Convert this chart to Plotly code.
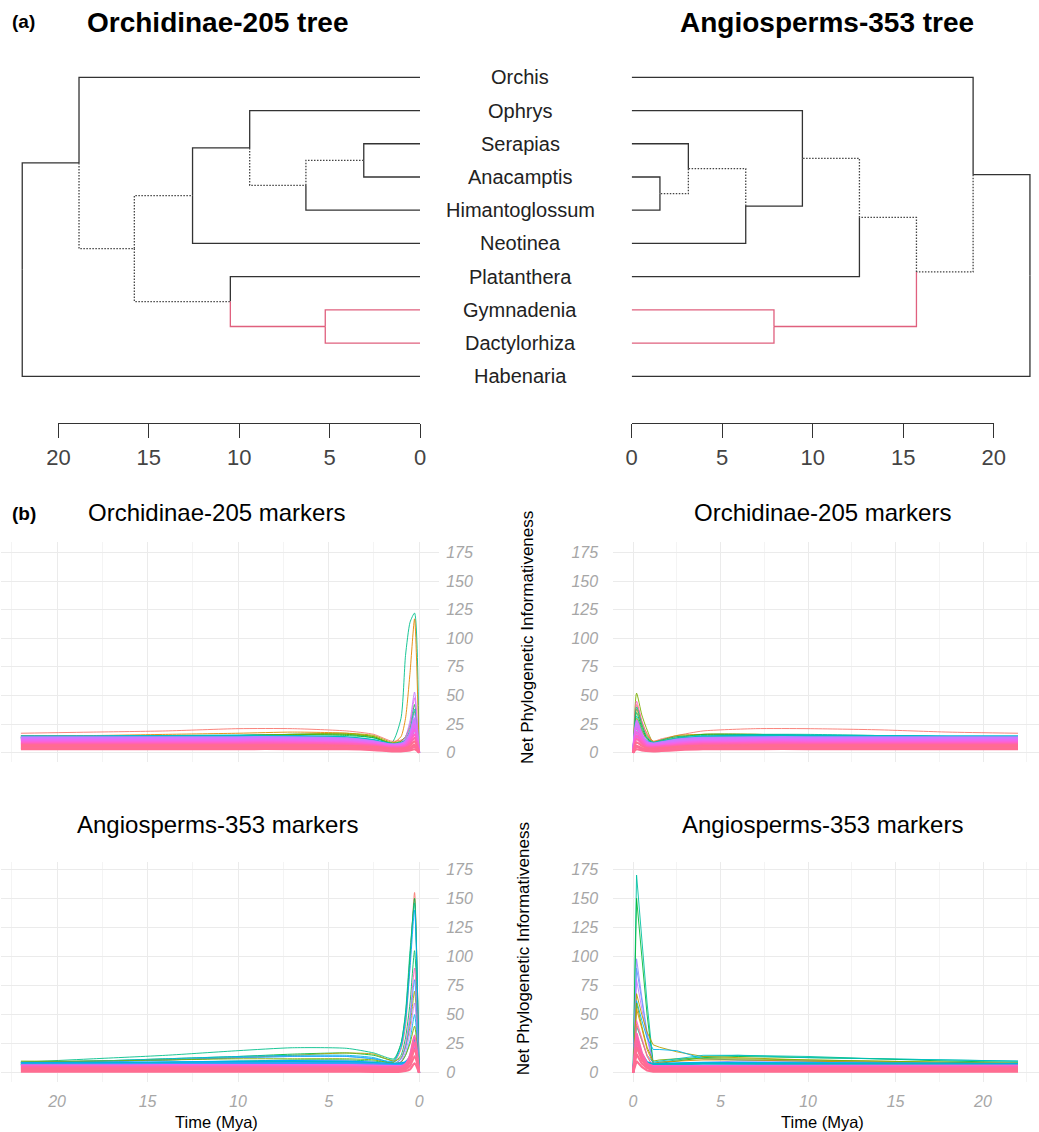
import plotly.graph_objects as go

W, H = 1039, 1132
FONT = "Liberation Sans, Arial, Helvetica, sans-serif"

# ---------------- (a) tree data ----------------
TIP_LABELS = ["Orchis", "Ophrys", "Serapias", "Anacamptis", "Himantoglossum",
              "Neotinea", "Platanthera", "Gymnadenia", "Dactylorhiza", "Habenaria"]

ORCH_NODE_AGES = {"root": 22.0, "A": 18.86, "B": 15.8, "C": 12.58, "D": 9.42,
                  "E": 6.31, "F": 3.11, "G": 10.49, "H": 5.24}
ORCH_CHILDREN = {"root": ["A", "Habenaria"], "A": ["Orchis", "B"], "B": ["C", "G"],
                 "C": ["D", "Neotinea"], "D": ["Ophrys", "E"], "E": ["F", "Himantoglossum"],
                 "F": ["Serapias", "Anacamptis"], "G": ["Platanthera", "H"],
                 "H": ["Gymnadenia", "Dactylorhiza"]}
ORCH_DOTTED = ["B", "C", "G", "E", "F"]
ORCH_PINK = ["H", "Gymnadenia", "Dactylorhiza"]

ANGIO_NODE_AGES = {"root": 22.0, "X": 18.86, "V": 15.73, "U": 12.58, "T": 9.43,
                   "S": 6.30, "R": 3.13, "Q": 1.56, "W": 7.86}
ANGIO_CHILDREN = {"root": ["X", "Habenaria"], "X": ["Orchis", "V"], "V": ["U", "W"],
                  "U": ["T", "Platanthera"], "T": ["Ophrys", "S"], "S": ["R", "Neotinea"],
                  "R": ["Serapias", "Q"], "Q": ["Anacamptis", "Himantoglossum"],
                  "W": ["Gymnadenia", "Dactylorhiza"]}
ANGIO_DOTTED = ["V", "U", "T", "R", "Q"]
ANGIO_PINK = ["W", "Gymnadenia", "Dactylorhiza"]

TREE_TICKS = [0, 5, 10, 15, 20]

# ---------------- (b) informativeness profiles ----------------
# Top-left: Orchidinae-205 markers on Orchidinae-205 tree
T_TL = [0, 0.25, 0.5, 0.75, 1.0, 1.5, 2.5, 4, 7, 10, 14, 18, 22]
TL_LINES = [
    ("#00C08B", [0, 122, 114, 85, 30, 9, 13, 16, 16, 15, 14, 13, 13]),
    ("#E58700", [0, 117, 70, 30, 14, 8, 14, 17, 18, 17, 16, 15, 15]),
    ("#F8766D", [0, 25, 18, 13, 11, 10, 16, 19, 21, 21, 19, 18, 17]),
    ("#00BA38", [0, 42, 24, 14, 10, 8, 13, 15, 16, 15, 14, 14, 13]),
    ("#A3A500", [0, 36, 22, 14, 10, 9, 15, 17, 16, 15, 14, 14, 13]),
    ("#5BB300", [0, 28, 16, 11, 9, 8, 14, 16, 16, 15, 15, 14, 14]),
    ("#00BFC4", [0, 38, 20, 12, 8, 6, 11, 13, 14, 14, 14, 13, 13]),
    ("#00B0F6", [0, 30, 17, 10, 7, 5, 10, 12, 13, 14, 13, 13, 12]),
    ("#9590FF", [0, 34, 18, 10, 7, 5, 9, 11, 12, 13, 12, 12, 12]),
    ("#C77CFF", [0, 53, 28, 14, 9, 7, 10, 12, 12, 12, 12, 12, 12]),
    ("#E76BF3", [0, 48, 24, 12, 8, 6, 9, 11, 11, 11, 11, 11, 11]),
]
TL_BAND = [
    ("#00B0F6", [0, 20, 12, 9, 8, 7, 10, 13, 14, 14.5, 14.5, 14, 14]),
    ("#00BFC4", [0, 24, 14, 10, 8.5, 7.5, 11, 13.5, 14.5, 15, 14.5, 14, 14]),
    ("#B385FF", [0, 22, 13, 9, 8, 7, 10, 12.5, 13.5, 13.5, 13.5, 13.5, 13.5]),
    ("#C77CFF", [0, 30, 16, 10, 7.5, 7, 9.5, 12, 12.8, 12.8, 12.8, 12.7, 12.7]),
    ("#D575FE", [0, 27, 15, 9, 7, 6.5, 9, 11, 11.8, 11.8, 11.8, 11.7, 11.7]),
    ("#E76BF3", [0, 24, 14, 8, 6.5, 6, 8.5, 10, 10.8, 10.8, 10.8, 10.7, 10.7]),
    ("#F564E3", [0, 20, 12, 7, 6, 5.5, 7.5, 9, 9.8, 9.8, 9.8, 9.7, 9.7]),
    ("#FF61C9", [0, 16, 10, 6, 5, 5, 6.8, 8, 8.7, 8.7, 8.7, 8.6, 8.6]),
    ("#FF64B0", [0, 13, 8, 5, 4.5, 4.3, 6, 7, 7.6, 7.6, 7.6, 7.5, 7.5]),
    ("#FF6C91", [0, 10, 6, 4, 3.5, 3.5, 5, 6, 6.5, 6.5, 6.5, 6.4, 6.4]),
    ("#FF6C91", [0, 7, 4, 3, 2.5, 2.5, 4, 5, 5.4, 5.4, 5.4, 5.3, 5.3]),
    ("#FF6A98", [0, 5, 3, 2, 1.8, 1.8, 3, 4, 4.3, 4.3, 4.3, 4.2, 4.2]),
    ("#FF6C91", [0, 3, 2, 1.5, 1.2, 1.2, 2.2, 3, 3.2, 3.2, 3.2, 3.2, 3.2]),
]

# Top-right: Orchidinae-205 markers on Angiosperms-353 tree
T_TR = [0, 0.2, 0.5, 0.75, 1.15, 1.6, 2.5, 4, 7, 10, 14, 18, 22]
TR_LINES = [
    ("#7CAE00", [0, 52, 33, 22, 9, 10, 12, 14, 15, 15, 15, 14, 14]),
    ("#FF61C3", [0, 45, 28, 18, 8, 8, 10, 11, 12, 12, 12, 12, 12]),
    ("#F8766D", [0, 42, 27, 18, 10, 12, 15, 19, 21, 21, 20, 18, 17]),
    ("#E58700", [0, 38, 24, 16, 10, 11, 14, 16, 16, 15, 14, 14, 14]),
    ("#00BFC4", [0, 32, 20, 13, 7, 8, 12, 14, 15, 15, 14, 13, 13]),
    ("#619CFF", [0, 28, 18, 12, 7, 8, 11, 13, 14, 14, 13, 13, 12]),
    ("#B79F00", [0, 30, 19, 13, 9, 11, 15, 16, 16, 15, 14, 14, 13]),
    ("#C77CFF", [0, 14, 10, 8, 6, 7, 10, 12, 12, 12, 12, 12, 12]),
    ("#00BA38", [0, 35, 22, 14, 8, 10, 13, 16, 16, 15, 15, 14, 14]),
    ("#00C08B", [0, 40, 25, 15, 9, 11, 14, 15, 16, 16, 15, 14, 14]),
]
TR_BAND = [
    ("#00B0F6", [0, 18, 12, 9, 8, 9, 11.5, 13.5, 14.5, 14.5, 14.5, 14, 14]),
    ("#00BFC4", [0, 22, 14, 10, 8.5, 9.5, 12, 14, 15, 15, 14.5, 14, 14]),
    ("#B385FF", [0, 14, 11, 9, 8, 9, 11.5, 13, 13.5, 13.5, 13.5, 13.5, 13.5]),
    ("#C77CFF", [0, 28, 16, 10, 7.5, 8.5, 10.8, 12.2, 12.8, 12.8, 12.8, 12.7, 12.7]),
    ("#D575FE", [0, 25, 15, 9, 7, 8, 9.8, 11.2, 11.8, 11.8, 11.8, 11.7, 11.7]),
    ("#E76BF3", [0, 22, 14, 8, 6.5, 7.2, 8.8, 10.2, 10.8, 10.8, 10.8, 10.7, 10.7]),
    ("#F564E3", [0, 18, 12, 7, 6, 6.5, 7.8, 9.2, 9.8, 9.8, 9.8, 9.7, 9.7]),
    ("#FF61C9", [0, 15, 10, 6, 5, 5.6, 6.9, 8.2, 8.7, 8.7, 8.7, 8.6, 8.6]),
    ("#FF64B0", [0, 12, 8, 5, 4.5, 5, 6, 7.2, 7.6, 7.6, 7.6, 7.5, 7.5]),
    ("#FF6C91", [0, 9, 6, 4, 3.5, 4, 5, 6.2, 6.5, 6.5, 6.5, 6.4, 6.4]),
    ("#FF6C91", [0, 6, 4, 3, 2.5, 3, 4, 5.1, 5.4, 5.4, 5.4, 5.3, 5.3]),
    ("#FF6A98", [0, 5, 3, 2, 1.8, 2.2, 3, 4, 4.3, 4.3, 4.3, 4.2, 4.2]),
    ("#FF6C91", [0, 3, 2, 1.5, 1.2, 1.5, 2.2, 3, 3.2, 3.2, 3.2, 3.2, 3.2]),
]

# Bottom-left: Angiosperms-353 markers on Orchidinae-205 tree
T_BL = [0, 0.25, 0.5, 0.75, 1.0, 1.4, 2.5, 4, 7, 10, 14, 18, 22]
BL_LINES = [
    ("#F8766D", [0, 155, 95, 40, 20, 9, 8, 8, 7, 6, 6, 5, 5]),
    ("#00BA38", [0, 150, 100, 50, 25, 11, 15, 17, 16, 14, 12, 10, 9]),
    ("#00C08B", [0, 146, 105, 52, 25, 12, 17, 21, 21.5, 19, 15, 12, 9]),
    ("#00A9FF", [0, 140, 90, 45, 22, 10, 12, 14, 14, 13, 11, 10, 9]),
    ("#00BE67", [0, 105, 60, 30, 15, 9, 10, 11, 11, 10, 9, 8, 7]),
    ("#FF61C3", [0, 90, 50, 25, 12, 7, 7, 7, 7, 6, 6, 6, 6]),
    ("#B79F00", [0, 70, 40, 22, 13, 10, 16, 17, 15, 13, 11, 10, 9]),
    ("#35A2FF", [0, 80, 45, 22, 12, 8, 12, 14, 14, 13, 11, 9, 8]),
    ("#C77CFF", [0, 60, 35, 18, 10, 7, 9, 10, 10, 9, 8, 7, 7]),
    ("#00B8E7", [0, 50, 28, 15, 9, 8, 13, 15, 15, 14, 12, 10, 9]),
    ("#7CAE00", [0, 40, 25, 15, 9, 8, 11, 12, 12, 12, 11, 10, 10]),
]
BL_BAND = [
    ("#00A9FF", [0, 30, 14, 9, 8, 7.5, 8.5, 9.5, 10, 9.5, 9, 8.5, 8]),
    ("#00BFC4", [0, 26, 12, 8, 7.5, 7, 8, 8.8, 9, 8.8, 8.3, 7.8, 7.5]),
    ("#35A2FF", [0, 22, 11, 7.5, 7, 6.8, 7.5, 8, 8.2, 8, 7.6, 7.2, 7]),
    ("#F564E3", [0, 24, 12, 7, 5.8, 5.8, 6.2, 6.5, 6.5, 6.5, 6.5, 6.4, 6.4]),
    ("#FF64B0", [0, 32, 15, 7.5, 5, 4.8, 5, 5.3, 5.3, 5.3, 5.3, 5.3, 5.3]),
    ("#FF689F", [0, 26, 12, 6, 4, 3.7, 3.9, 4.2, 4.2, 4.2, 4.2, 4.2, 4.2]),
    ("#FF6C91", [0, 20, 9, 4.5, 3, 2.6, 2.8, 3.1, 3.1, 3.1, 3.1, 3.1, 3.1]),
    ("#FF6C91", [0, 14, 6, 3, 2, 1.6, 1.7, 2, 2, 2, 2, 2, 2]),
    ("#FF6C91", [0, 8, 3, 1.5, 1, 0.8, 0.8, 0.9, 0.9, 0.9, 0.9, 0.9, 0.9]),
]

# Bottom-right: Angiosperms-353 markers on Angiosperms-353 tree
T_BR = [0, 0.2, 0.5, 0.8, 1.15, 1.5, 2.5, 4, 6, 10, 14, 18, 22]
BR_LINES = [
    ("#00C1A3", [0, 170, 115, 60, 8, 9, 11, 14, 15, 14, 12, 11, 10]),
    ("#00BA38", [0, 150, 100, 50, 6, 8, 10, 13, 14, 13, 12, 10, 9]),
    ("#9590FF", [0, 98, 65, 35, 7, 7, 8, 9, 10, 10, 9, 8, 8]),
    ("#619CFF", [0, 90, 62, 33, 7, 7, 7, 8, 9, 9, 8, 8, 8]),
    ("#C77CFF", [0, 80, 55, 30, 6, 6, 7, 8, 8, 8, 8, 7, 7]),
    ("#B79F00", [0, 68, 50, 35, 24, 22, 18, 14, 13, 11, 10, 9, 8]),
    ("#00B4F0", [0, 62, 45, 30, 20, 20, 19, 12, 11, 10, 9, 8, 8]),
    ("#7CAE00", [0, 60, 40, 22, 10, 11, 12, 12, 12, 11, 10, 9, 8]),
    ("#DE8C00", [0, 55, 38, 20, 8, 9, 10, 11, 11, 10, 9, 8, 8]),
    ("#00BFC4", [0, 40, 28, 15, 9, 10, 12, 15, 15, 13, 12, 11, 10]),
    ("#FF61C3", [0, 45, 30, 15, 5, 5, 5, 6, 6, 6, 6, 6, 5]),
    ("#F8766D", [0, 42, 28, 14, 5, 5, 5, 5, 5, 5, 5, 5, 5]),
]
BR_BAND = [
    ("#00A9FF", [0, 30, 16, 9, 7.5, 7.5, 8, 8.5, 8.5, 8.3, 8, 7.8, 7.5]),
    ("#00BFC4", [0, 26, 13, 8, 7, 7, 7.5, 7.8, 7.8, 7.6, 7.4, 7.2, 7]),
    ("#F564E3", [0, 25, 13, 7, 5.8, 5.8, 6, 6.2, 6.2, 6.2, 6.2, 6.1, 6.1]),
    ("#FF64B0", [0, 34, 17, 8, 5, 4.9, 5, 5.1, 5.1, 5.1, 5.1, 5.1, 5.1]),
    ("#FF689F", [0, 28, 14, 6.5, 4, 3.8, 3.9, 4, 4, 4, 4, 4, 4]),
    ("#FF6C91", [0, 22, 11, 5, 3, 2.8, 2.9, 3, 3, 3, 3, 3, 3]),
    ("#FF6C91", [0, 16, 8, 4, 2, 1.8, 1.9, 2, 2, 2, 2, 2, 2]),
    ("#FF6C91", [0, 10, 5, 2, 1, 0.9, 0.9, 0.9, 0.9, 0.9, 0.9, 0.9, 0.9]),
]

Y_TICKS = [0, 25, 50, 75, 100, 125, 150, 175]
X_TICKS = [0, 5, 10, 15, 20]
X_MINOR = [2.5, 7.5, 12.5, 17.5, 22.5]


def px_x(p):
    return p / W


def px_y(p):
    return 1 - p / H


def tree_segments(children, ages, dotted, pink):
    ypos = {name: i + 1 for i, name in enumerate(TIP_LABELS)}

    def node_y(n):
        if n in ypos:
            return ypos[n]
        ys = [node_y(c) for c in children[n]]
        ypos[n] = sum(ys) / len(ys)
        return ypos[n]

    node_y("root")
    segs = {"solid": ([], []), "dotted": ([], []), "pink": ([], [])}
    for p, kids in children.items():
        for c in kids:
            style = "pink" if c in pink else ("dotted" if c in dotted else "solid")
            xs, ys = segs[style]
            xs += [ages[p], ages[p], ages.get(c, 0.0), None]
            ys += [ypos[p], ypos[c], ypos[c], None]
    return segs


fig = go.Figure()

# invisible anchors for the tree scale bars (drawn first, underneath)
for xa in ["x3", "x4"]:
    fig.add_trace(go.Scatter(x=TREE_TICKS, y=[1] * len(TREE_TICKS), mode="markers",
                             marker=dict(opacity=0), xaxis=xa, yaxis="y", hoverinfo="skip"))

STYLE = {"solid": dict(color="#333333", width=1.3),
         "dotted": dict(color="#444444", width=1.3, dash="1.5px,1.5px"),
         "pink": dict(color="#E0607E", width=1.3)}

for segs, xa in [(tree_segments(ORCH_CHILDREN, ORCH_NODE_AGES, ORCH_DOTTED, ORCH_PINK), "x"),
                 (tree_segments(ANGIO_CHILDREN, ANGIO_NODE_AGES, ANGIO_DOTTED, ANGIO_PINK), "x2")]:
    for style in ["solid", "dotted", "pink"]:
        xs, ys = segs[style]
        fig.add_trace(go.Scatter(x=xs, y=ys, mode="lines", line=STYLE[style],
                                 xaxis=xa, yaxis="y", hoverinfo="skip"))

# informativeness panels
for T, lines, band, xa, ya, shape in [(T_TL, TL_LINES, TL_BAND, "x5", "y5", "spline"),
                                      (T_TR, TR_LINES, TR_BAND, "x6", "y6", "spline"),
                                      (T_BL, BL_LINES, BL_BAND, "x7", "y7", "spline"),
                                      (T_BR, BR_LINES, BR_BAND, "x8", "y8", "linear")]:
    for col, vals in lines:
        fig.add_trace(go.Scatter(x=T, y=vals, mode="lines",
                                 line=dict(color=col, width=0.9, shape=shape, smoothing=0.6),
                                 xaxis=xa, yaxis=ya, hoverinfo="skip"))
    for col, vals in band:
        fig.add_trace(go.Scatter(x=T, y=vals, mode="lines",
                                 line=dict(color=col, width=2.2, shape=shape, smoothing=0.6),
                                 xaxis=xa, yaxis=ya, hoverinfo="skip"))

hidden = dict(visible=False, showgrid=False, zeroline=False, automargin=False)
tick_font = dict(family=FONT, size=16, color="#A6A6A6", style="italic")
GRID = "#EBEBEB"


def panel_x(domain, rng, labels, anchor):
    return dict(domain=domain, range=rng, tickvals=X_TICKS, showticklabels=labels,
                tickfont=tick_font, ticks="outside" if labels else "", ticklen=5,
                tickcolor="rgba(0,0,0,0)", showgrid=True, gridcolor=GRID, gridwidth=1.3,
                zeroline=False, showline=False, anchor=anchor, automargin=False,
                minor=dict(tickvals=X_MINOR, showgrid=True, gridcolor="#F4F4F4", gridwidth=0.8))


def panel_y(domain, rng, side, anchor):
    return dict(domain=domain, range=rng, tickvals=Y_TICKS, side=side, tickfont=tick_font,
                ticks="outside", ticklen=3 if side == "right" else 11,
                tickcolor="rgba(0,0,0,0)", showgrid=True, gridcolor=GRID, gridwidth=1.3,
                zeroline=False, showline=False, anchor=anchor, automargin=False)


scale_axis = dict(showline=True, linecolor="#333333", linewidth=1.2, ticks="outside",
                  ticklen=14, tickwidth=1.2, tickcolor="#333333", tickvals=TREE_TICKS,
                  tickfont=dict(family=FONT, size=22, color="#444444"), showgrid=False,
                  zeroline=False, anchor="free", position=px_y(423), automargin=False)

TOP_Y = [px_y(762.3), px_y(541.7)]
BOT_Y = [px_y(1081.7), px_y(862.3)]
LEFT_X = [px_x(1), px_x(439)]
RIGHT_X = [px_x(613.3), 1.0]

fig.update_layout(
    template="none",
    width=W, height=H, margin=dict(l=0, r=0, t=0, b=0, pad=0),
    paper_bgcolor="white", plot_bgcolor="rgba(0,0,0,0)", showlegend=False,
    font=dict(family=FONT, color="#000000"),
    xaxis=dict(domain=[0, px_x(420)], range=[23.23, 0], anchor="y", **hidden),
    xaxis2=dict(domain=[px_x(631.7), 1.0], range=[0, 22.5], anchor="y", **hidden),
    yaxis=dict(domain=[px_y(400), px_y(60)], range=[10.713, 0.479], anchor="x", **hidden),
    xaxis3=dict(domain=[px_x(58.4), px_x(420)], range=[20, 0], **scale_axis),
    xaxis4=dict(domain=[px_x(631.7), px_x(993.7)], range=[0, 20], **scale_axis),
    xaxis5=panel_x(LEFT_X, [23.1, -1.1], False, "y5"),
    yaxis5=panel_y(TOP_Y, [-8.4, 184.4], "right", "x5"),
    xaxis6=panel_x(RIGHT_X, [-1.13, 23.2], False, "y6"),
    yaxis6=panel_y(TOP_Y, [-8.4, 184.4], "left", "x6"),
    xaxis7=panel_x(LEFT_X, [23.1, -1.1], True, "y7"),
    yaxis7=panel_y(BOT_Y, [-7.7, 181], "right", "x7"),
    xaxis8=panel_x(RIGHT_X, [-1.13, 23.2], True, "y8"),
    yaxis8=panel_y(BOT_Y, [-7.7, 181], "left", "x8"),
)

ann = []
for i, name in enumerate(TIP_LABELS):
    ann.append(dict(text=name, x=px_x(520), xref="paper", y=i + 1, yref="y",
                    showarrow=False, xanchor="center", yanchor="middle",
                    font=dict(family=FONT, size=20, color="#222222")))


def text(t, x, y, size, bold=False, xanchor="center", angle=0, color="#000000"):
    ann.append(dict(text=f"<b>{t}</b>" if bold else t, x=px_x(x), y=px_y(y),
                    xref="paper", yref="paper", showarrow=False, xanchor=xanchor,
                    yanchor="middle", textangle=angle,
                    font=dict(family=FONT, size=size, color=color)))


text("(a)", 10, 21, 19, bold=True, xanchor="left")
text("Orchidinae-205 tree", 217, 22, 28, bold=True)
text("Angiosperms-353 tree", 826.5, 22, 28, bold=True)
text("(b)", 10, 513, 19, bold=True, xanchor="left")
text("Orchidinae-205 markers", 216.7, 512, 24)
text("Orchidinae-205 markers", 822.7, 512, 24)
text("Angiosperms-353 markers", 217.5, 824, 24)
text("Angiosperms-353 markers", 822.5, 824, 24)
text("Net Phylogenetic Informativeness", 527.5, 637.5, 17, angle=-90)
text("Net Phylogenetic Informativeness", 523.3, 949, 17, angle=-90)
text("Time (Mya)", 216.7, 1121.7, 16.5)
text("Time (Mya)", 822.5, 1121.7, 16.5)
fig.update_layout(annotations=ann)

fig.write_html("out.html")
